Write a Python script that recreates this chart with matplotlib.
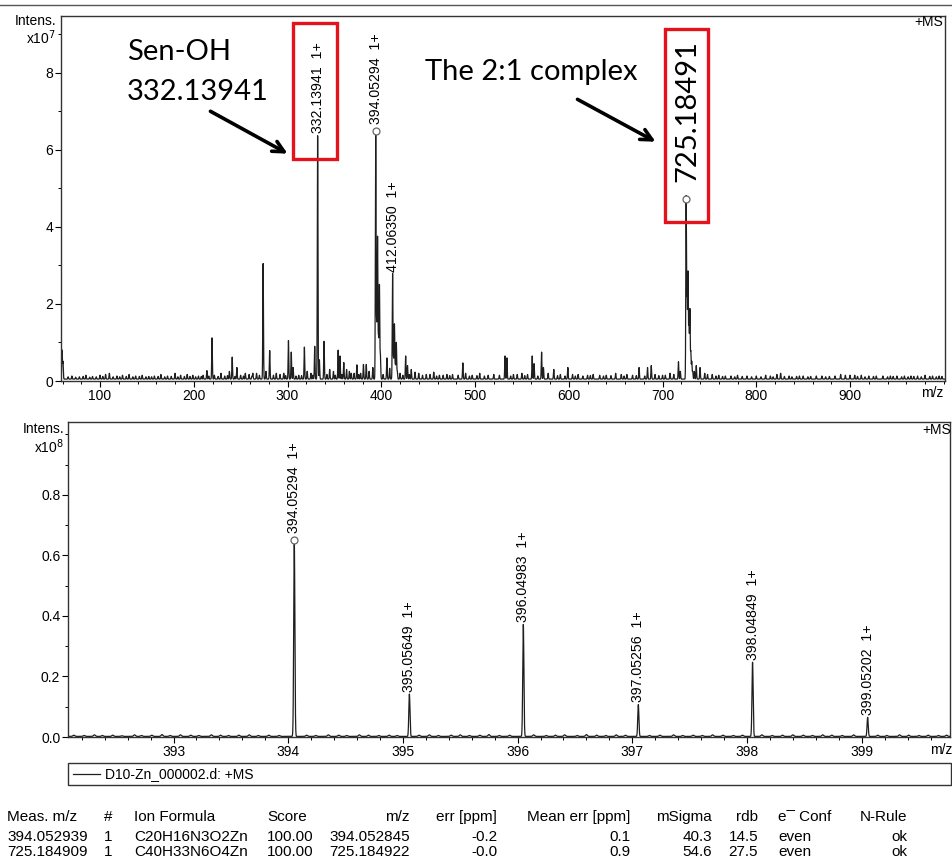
import numpy as np
import matplotlib.pyplot as plt
from matplotlib.patches import Rectangle
from matplotlib.lines import Line2D
from matplotlib.ticker import MultipleLocator

plt.rcParams['font.family'] = ['Liberation Sans', 'DejaVu Sans']

# full-scan spectrum, intensities in 1e7 counts
scan_mz = [59.5, 60.5, 214, 219.5, 229, 238, 241, 246, 255, 263,
           274, 277, 281, 288, 296, 301, 304, 306, 318, 321, 329, 332.13941, 334, 339, 345,
           354, 356, 360, 363, 368, 371, 374, 381, 384, 391,
           394.05294, 395.05649, 396.04983, 397.05256, 398.04849, 399.05202,
           406, 409, 412.06350, 413.07, 414.06, 415.06, 416.06, 417.06,
           426, 428, 432, 436, 440, 448, 456, 462, 470, 487, 490, 505, 514,
           532, 534, 541, 550, 561, 563, 571, 573, 584, 599, 610, 620, 633, 650, 662,
           675, 684, 688, 700, 717, 719,
           725.18491, 726.19, 727.18, 728.18, 729.18, 730.18, 731.19, 732.19,
           740, 745, 753, 767, 780, 790, 810, 822, 826, 835, 850, 870, 890, 895, 905,
           920, 935, 950, 965, 980, 995]
scan_int = [0.75, 0.45, 0.22, 1.07, 0.15, 0.2, 0.57, 0.3, 0.15, 0.15,
            3.0, 0.2, 0.74, 0.15, 0.15, 1.0, 0.7, 0.3, 0.83, 0.2, 0.85, 6.36, 0.5, 0.98, 0.25,
            0.75, 0.6, 0.43, 0.25, 0.15, 0.15, 0.37, 0.38, 0.38, 0.3,
            6.5, 1.4, 3.7, 1.05, 2.45, 0.63,
            0.55, 0.28, 2.75, 0.5, 1.43, 0.35, 0.95, 0.2,
            0.6, 0.35, 0.25, 0.18, 0.15, 0.12, 0.18, 0.1, 0.12, 0.42, 0.15, 0.15, 0.1,
            0.6, 0.55, 0.12, 0.15, 0.6, 0.4, 0.7, 0.3, 0.25, 0.3, 0.12, 0.1, 0.1, 0.15, 0.12,
            0.3, 0.3, 0.35, 0.1, 0.45, 0.2,
            4.73, 2.2, 2.75, 1.5, 1.8, 0.7, 0.45, 0.2,
            0.3, 0.15, 0.12, 0.08, 0.1, 0.08, 0.1, 0.12, 0.15, 0.08, 0.08, 0.08, 0.12, 0.1, 0.1,
            0.08, 0.08, 0.08, 0.08, 0.1, 0.08]
# small noise spikes along the baseline
grass_mz = [66, 70, 74, 78, 82, 85, 89, 92, 96, 100, 103, 106, 110, 114, 118, 121, 124, 128,
            131, 135, 138, 142, 145, 149, 152, 155, 158, 162, 165, 169, 172, 176, 180, 183,
            186, 190, 193, 196, 199, 202, 205, 208, 210, 216, 222, 226, 233, 236, 244, 250,
            253, 259, 262, 267, 270, 285, 292, 298, 309, 312, 315, 325, 327, 342, 349, 351,
            358, 366, 376, 378, 387, 402, 420, 423, 430, 444, 452, 459, 466, 473, 476, 482,
            494, 497, 502, 510, 520, 526, 538, 545, 553, 556, 567, 578, 588, 591, 596, 604,
            607, 615, 623, 626, 637, 640, 645, 656, 659, 668, 672, 681, 692, 696, 703, 708,
            712, 734, 736, 748, 757, 760, 764, 773, 777, 785, 795, 800, 805, 815, 818, 830,
            838, 843, 846, 855, 858, 864, 874, 878, 884, 900, 908, 912, 916, 925, 928, 940,
            943, 946, 955, 958, 962, 968, 972, 976, 985, 988, 992, 998]
grass_int = [0.06, 0.08, 0.05, 0.06, 0.07, 0.1, 0.05, 0.07, 0.06, 0.1, 0.07, 0.12, 0.15, 0.06,
             0.08, 0.06, 0.1, 0.07, 0.12, 0.06, 0.08, 0.07, 0.1, 0.06, 0.07, 0.06, 0.08, 0.07,
             0.12, 0.06, 0.08, 0.07, 0.15, 0.06, 0.1, 0.07, 0.12, 0.07, 0.1, 0.06, 0.08, 0.07,
             0.1, 0.08, 0.1, 0.07, 0.08, 0.09, 0.07, 0.1, 0.08, 0.12, 0.07, 0.15, 0.1, 0.1,
             0.12, 0.09, 0.08, 0.1, 0.09, 0.15, 0.1, 0.12, 0.2, 0.1, 0.12, 0.2, 0.12, 0.15,
             0.2, 0.12, 0.15, 0.1, 0.12, 0.1, 0.12, 0.08, 0.1, 0.09, 0.12, 0.1, 0.08, 0.1,
             0.09, 0.08, 0.12, 0.1, 0.08, 0.12, 0.09, 0.12, 0.08, 0.15, 0.09, 0.12, 0.08,
             0.12, 0.08, 0.08, 0.09, 0.12, 0.08, 0.1, 0.09, 0.12, 0.08, 0.1, 0.09, 0.08,
             0.12, 0.09, 0.1, 0.15, 0.12, 0.2, 0.35, 0.12, 0.08, 0.1, 0.07, 0.08, 0.06,
             0.07, 0.06, 0.08, 0.06, 0.08, 0.06, 0.07, 0.06, 0.07, 0.08, 0.06, 0.07, 0.08,
             0.06, 0.07, 0.08, 0.1, 0.07, 0.1, 0.06, 0.07, 0.08, 0.06, 0.08, 0.07, 0.06,
             0.08, 0.06, 0.07, 0.08, 0.06, 0.07, 0.08, 0.06, 0.07]
scan_baseline = 0.05

scan_labels = ['332.13941', '394.05294', '412.06350']
scan_label_mz = [332.13941, 394.05294, 412.06350]
scan_label_int = [6.36, 6.5, 2.75]
complex_mz, complex_int = 725.18491, 4.73

# zoomed isotope pattern of the Zn complex, intensities in 1e8 counts
iso_mz = [394.05294, 395.05649, 396.04983, 397.05256, 398.04849, 399.05202]
iso_int = [0.65, 0.14, 0.37, 0.105, 0.245, 0.063]
iso_noise_mz = [392.13, 392.22, 392.31, 392.38, 392.47, 392.55, 392.66, 392.72, 392.81,
                392.9, 392.97, 393.06, 393.15, 393.22, 393.33, 393.41, 393.48, 393.57,
                393.66, 393.74, 393.83, 393.92, 394.16, 394.24, 394.35, 394.44, 394.51,
                394.62, 394.7, 394.79, 394.88, 394.95, 395.14, 395.23, 395.31, 395.42,
                395.5, 395.58, 395.67, 395.75, 395.84, 395.93, 396.14, 396.25, 396.33,
                396.41, 396.52, 396.6, 396.69, 396.77, 396.86, 396.94, 397.15, 397.24,
                397.36, 397.44, 397.53, 397.61, 397.7, 397.79, 397.88, 397.96, 398.13,
                398.22, 398.31, 398.4, 398.49, 398.57, 398.66, 398.74, 398.83, 398.93,
                399.14, 399.22, 399.33, 399.41, 399.5, 399.58, 399.67, 399.74]
iso_noise_int = [0.004, 0.003, 0.005, 0.003, 0.004, 0.002, 0.005, 0.003, 0.004, 0.006,
                 0.003, 0.005, 0.004, 0.003, 0.005, 0.004, 0.003, 0.004, 0.005, 0.003,
                 0.004, 0.003, 0.004, 0.003, 0.005, 0.004, 0.003, 0.005, 0.004, 0.003,
                 0.004, 0.003, 0.004, 0.005, 0.003, 0.004, 0.005, 0.003, 0.004, 0.006,
                 0.003, 0.004, 0.005, 0.003, 0.004, 0.005, 0.003, 0.006, 0.004, 0.003,
                 0.005, 0.004, 0.003, 0.004, 0.005, 0.003, 0.004, 0.003, 0.005, 0.004,
                 0.003, 0.004, 0.005, 0.003, 0.004, 0.005, 0.004, 0.003, 0.005, 0.004,
                 0.003, 0.005, 0.004, 0.003, 0.005, 0.004, 0.003, 0.004, 0.003, 0.004]
iso_baseline = 0.002

# formula match table
tbl_meas = ['394.052939', '725.184909']
tbl_num = ['1', '1']
tbl_formula = ['C20H16N3O2Zn', 'C40H33N6O4Zn']
tbl_score = ['100.00', '100.00']
tbl_mz = ['394.052845', '725.184922']
tbl_err = ['-0.2', '-0.0']
tbl_mean_err = ['0.1', '0.9']
tbl_msigma = ['40.3', '54.6']
tbl_rdb = ['14.5', '27.5']
tbl_econf = ['even', 'even']
tbl_nrule = ['ok', 'ok']

W, H = 952, 863
fig = plt.figure(figsize=(W / 100, H / 100), dpi=100)


def box(x0, y0, x1, y1):
    return [x0 / W, 1 - y1 / H, (x1 - x0) / W, (y1 - y0) / H]


def profile(grid, mz, inten, sigma):
    y = np.zeros_like(grid)
    for m, a in zip(mz, inten):
        y += a * np.exp(-0.5 * ((grid - m) / sigma) ** 2)
    return y


line_col = '#1e1e1e'
annot_font = ['Lato', 'DejaVu Sans']

# ---- full scan ----
ax1 = fig.add_axes(box(61, 16, 945, 381))
g1 = np.arange(58.4, 1001.3, 0.1)
y1 = profile(g1, scan_mz, scan_int, 0.35) + profile(g1, grass_mz, grass_int, 0.35) + scan_baseline
ax1.plot(g1, y1, color=line_col, lw=0.9)
ax1.set_xlim(58.4, 1001.3)
ax1.set_ylim(0, 9.48)
ax1.set_xticks(range(100, 1000, 100))
ax1.xaxis.set_minor_locator(MultipleLocator(20))
ax1.set_yticks([0, 2, 4, 6, 8])
ax1.set_yticks([1, 3, 5, 7, 9], minor=True)

for lab, m, h in zip(scan_labels, scan_label_mz, scan_label_int):
    off = 5 if lab == '394.05294' else 2
    ax1.annotate(lab + '  1+', (m, h), xytext=(0, off), textcoords='offset points',
                 rotation=90, ha='center', va='bottom', fontsize=10.2)
ax1.plot([394.05294, complex_mz], [6.5, complex_int], 'o', ms=5, mfc='white',
         mec='#666666', mew=0.9, zorder=3)

# highlight boxes around the two key peaks
for m, h, dl, dr, top in [(332.13941, 6.36, 26.2, 20.7, 9.30), (complex_mz, complex_int, 22.5, 23.3, 9.14)]:
    ax1.add_patch(Rectangle((m - dl, h - 0.6), dl + dr, top - h + 0.6, fill=False,
                            ec='#e3121b', lw=2.4, clip_on=False, zorder=4))

ax1.text(128.8, 8.88, 'Sen-OH', fontsize=21, family=annot_font, ha='left', va='top')
ax1.text(128.8, 7.84, '332.13941', fontsize=21, family=annot_font, ha='left', va='top')
ax1.text(559.7, 8.03, 'The 2:1 complex', fontsize=21, family=annot_font,
         ha='center', va='center')
ax1.text(726.1, 5.17, '725.18491', fontsize=21, family=annot_font, rotation=90,
         ha='center', va='bottom')
arrow = dict(arrowstyle='->', lw=2.6, color='black', mutation_scale=20)
ax1.annotate('', xy=(302.7, 5.87), xytext=(215.2, 7.04), arrowprops=arrow)
ax1.annotate('', xy=(695.2, 6.18), xytext=(606.7, 7.35), arrowprops=arrow)

ax1.text(0.998, 0.984, '+MS', transform=ax1.transAxes, ha='right', va='center', fontsize=10)
ax1.text(0.985, -0.033, 'm/z', transform=ax1.transAxes, ha='center', va='center', fontsize=10)

# ---- isotope pattern ----
ax2 = fig.add_axes(box(68, 422, 950, 737))
g2 = np.arange(392.08, 399.77, 0.0005)
y2 = profile(g2, iso_mz, iso_int, 0.005) + profile(g2, iso_noise_mz, iso_noise_int, 0.008) + iso_baseline
ax2.plot(g2, y2, color=line_col, lw=0.9)
ax2.set_xlim(392.08, 399.77)
ax2.set_ylim(0, 1.041)
ax2.set_xticks(range(393, 400))
ax2.xaxis.set_minor_locator(MultipleLocator(0.2))
ax2.set_yticks([0, 0.2, 0.4, 0.6, 0.8])
ax2.set_yticks([0.1, 0.3, 0.5, 0.7, 0.9, 1.0], minor=True)
ax2.yaxis.set_major_formatter(plt.FormatStrFormatter('%.1f'))

for i, (m, h) in enumerate(zip(iso_mz, iso_int)):
    off = 5 if i == 0 else 2
    ax2.annotate(f'{m:.5f}  1+', (m, h), xytext=(0, off), textcoords='offset points',
                 rotation=90, ha='center', va='bottom', fontsize=10.2)
ax2.plot(iso_mz[0], iso_int[0], 'o', ms=5, mfc='white', mec='#666666', mew=0.9, zorder=3)
ax2.text(0.969, 0.975, '+MS', transform=ax2.transAxes, ha='left', va='center', fontsize=10)
ax2.text(0.99, -0.041, 'm/z', transform=ax2.transAxes, ha='center', va='center', fontsize=10)

for ax in (ax1, ax2):
    for s in ax.spines.values():
        s.set_linewidth(1.0)
        s.set_color('#333333')
    ax.tick_params(which='major', length=4, width=0.8, pad=1.5, labelsize=10)
    ax.tick_params(which='minor', length=2.5, width=0.7)

# axis captions
fig.text(56 / W, 1 - 21 / H, 'Intens.', ha='right', va='center', fontsize=10)
fig.text(56 / W, 1 - 38 / H, 'x10$^7$', ha='right', va='center', fontsize=10)
fig.text(64 / W, 1 - 429 / H, 'Intens.', ha='right', va='center', fontsize=10)
fig.text(64 / W, 1 - 447 / H, 'x10$^8$', ha='right', va='center', fontsize=10)

# page rule and trace legend
fig.add_artist(Line2D([0, 1], [1 - 5 / H] * 2, color='#555555', lw=1.0))
fig.add_artist(Rectangle((68 / W, 1 - 785 / H), (951 - 68) / W, 22 / H, fill=False,
                         ec='#333333', lw=1.0, transform=fig.transFigure))
fig.add_artist(Line2D([73 / W, 100 / W], [1 - 774 / H] * 2, color=line_col, lw=0.9))
fig.text(105 / W, 1 - 774 / H, 'D10-Zn_000002.d: +MS', ha='left', va='center', fontsize=10)

# formula table
columns = [
    ('Meas. m/z', tbl_meas, 7, 'left'),
    ('#', tbl_num, 108, 'center'),
    ('Ion Formula', tbl_formula, 134, 'left'),
    ('Score', tbl_score, 267, 'left'),
    ('m/z', tbl_mz, 410, 'right'),
    ('err [ppm]', tbl_err, 497, 'right'),
    ('Mean err [ppm]', tbl_mean_err, 630, 'right'),
    ('mSigma', tbl_msigma, 712, 'right'),
    ('rdb', tbl_rdb, 758, 'right'),
    ('e\u00af Conf', tbl_econf, 778, 'left'),
    ('N-Rule', tbl_nrule, 907, 'right'),
]
row_y = [817, 837, 852]
for head, vals, x, ha in columns:
    for y, t in zip(row_y, [head] + vals):
        fig.text(x / W, 1 - y / H, t, ha=ha, va='center', fontsize=11)

fig.savefig('out.png', dpi=100)
